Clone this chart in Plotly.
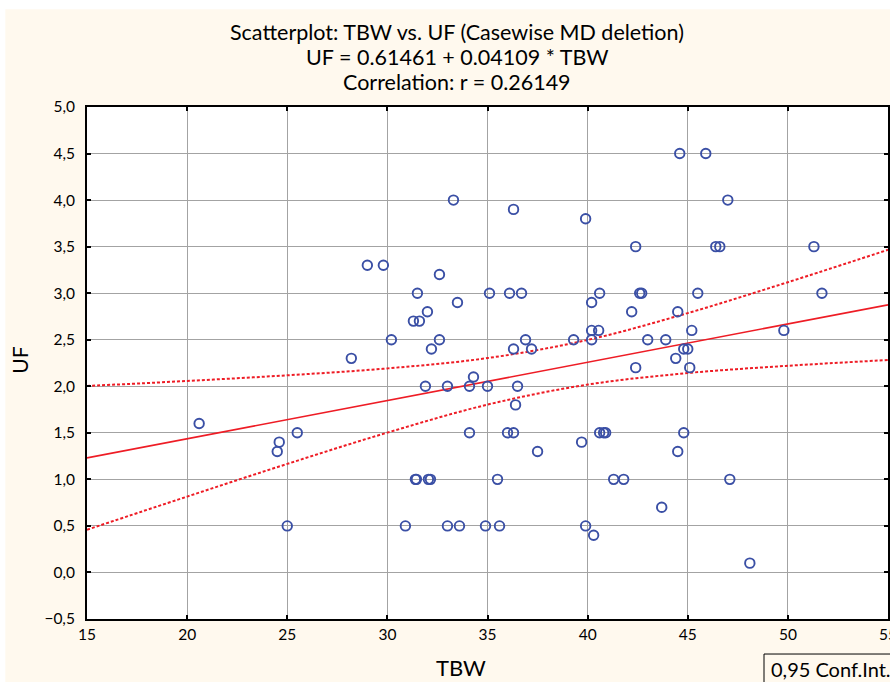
import plotly.graph_objects as go

# ---- data ----
tbw = [20.6, 24.6, 24.5, 25.5, 25.0, 28.2, 29.0, 29.8, 33.3, 36.3, 39.9, 42.4,
       32.6, 31.5, 35.1, 36.1, 36.7, 40.6, 42.6, 42.7, 33.5, 40.2, 32.0, 31.3,
       31.6, 42.2, 40.2, 40.55, 30.2, 32.6, 32.2, 39.3, 40.2, 43.0, 43.9, 36.9,
       36.3, 37.2, 42.4, 44.6, 45.9, 47.0, 46.4, 46.6, 51.3, 45.5, 51.7, 44.5,
       45.2, 49.8, 44.8, 45.0, 44.4, 45.1, 34.3, 31.9, 33.0, 34.1, 35.0, 36.5,
       36.4, 34.1, 36.0, 36.3, 37.5, 39.7, 40.6, 40.8, 40.9, 31.4, 31.45, 32.05,
       32.15, 35.5, 41.3, 41.8, 43.7, 30.9, 33.0, 33.6, 34.9, 35.6, 39.9, 40.3,
       44.8, 44.5, 47.1, 48.1]
uf = [1.6, 1.4, 1.3, 1.5, 0.5, 2.3, 3.3, 3.3, 4.0, 3.9, 3.8, 3.5,
      3.2, 3.0, 3.0, 3.0, 3.0, 3.0, 3.0, 3.0, 2.9, 2.9, 2.8, 2.7,
      2.7, 2.8, 2.6, 2.6, 2.5, 2.5, 2.4, 2.5, 2.5, 2.5, 2.5, 2.5,
      2.4, 2.4, 2.2, 4.5, 4.5, 4.0, 3.5, 3.5, 3.5, 3.0, 3.0, 2.8,
      2.6, 2.6, 2.4, 2.4, 2.3, 2.2, 2.1, 2.0, 2.0, 2.0, 2.0, 2.0,
      1.8, 1.5, 1.5, 1.5, 1.3, 1.4, 1.5, 1.5, 1.5, 1.0, 1.0, 1.0,
      1.0, 1.0, 1.0, 1.0, 0.7, 0.5, 0.5, 0.5, 0.5, 0.5, 0.5, 0.4,
      1.5, 1.3, 1.0, 0.1]

# regression line as stated in the chart title
intercept = 0.61461
slope = 0.04109
fit_x = [15, 55]

# 0.95 confidence band
band_x = [15, 20, 25, 30, 35, 40, 45, 50, 55]
band_upper = [2.003, 2.057, 2.118, 2.192, 2.303, 2.498, 2.786, 3.118, 3.466]
band_lower = [0.459, 0.815, 1.166, 1.502, 1.803, 2.018, 2.142, 2.220, 2.282]

title_lines = ["Scatterplot: TBW vs. UF (Casewise MD deletion)",
               "UF = 0.61461 + 0.04109 * TBW",
               "Correlation: r = 0.26149"]

FONT = "Lato, 'Open Sans', sans-serif"
RED = "#ee1c25"
BLUE = "#3a4fa5"
CREAM = "#fff9ee"

fig = go.Figure()

fig.add_trace(go.Scatter(
    x=band_x, y=band_upper, mode="lines", line_shape="spline",
    line=dict(color=RED, width=2, dash="3px,2px"), hoverinfo="skip"))
fig.add_trace(go.Scatter(
    x=band_x, y=band_lower, mode="lines", line_shape="spline",
    line=dict(color=RED, width=2, dash="3px,2px"), hoverinfo="skip"))
fig.add_trace(go.Scatter(
    x=fit_x, y=[intercept + slope * v for v in fit_x], mode="lines",
    line=dict(color=RED, width=1.6)))
fig.add_trace(go.Scatter(
    x=tbw, y=uf, mode="markers",
    marker=dict(symbol="circle-open", size=9.5, color=BLUE,
                line=dict(color=BLUE, width=1.9))))

axis_common = dict(
    showgrid=True, gridcolor="#a3a3a3", gridwidth=1,
    showline=True, linecolor="black", linewidth=2, mirror="allticks",
    ticks="inside", ticklen=4, tickcolor="black", tickwidth=1.5,
    zeroline=False, tickfont=dict(family=FONT, size=15.5, color="black"),
    ticklabeloverflow="allow", automargin=False,
)

fig.update_xaxes(range=[15, 55], dtick=5, tick0=15, **axis_common)
fig.update_yaxes(range=[-0.5, 5.0], dtick=0.5, tick0=-0.5, tickformat=".1f",
                 ticklabelstandoff=7, **axis_common)

annotations = []
for txt, yp in zip(title_lines, [1.146, 1.0977, 1.0488]):
    annotations.append(dict(text=txt, x=0.462, y=yp, xref="paper", yref="paper",
                            xanchor="center", yanchor="middle", showarrow=False,
                            font=dict(family=FONT, size=21.5, color="black")))
annotations.append(dict(text="UF", x=-0.0845, y=0.505, xref="paper", yref="paper",
                        xanchor="center", yanchor="middle", showarrow=False,
                        textangle=-90, font=dict(family=FONT, size=21, color="black")))
annotations.append(dict(text="TBW", x=0.467, y=-0.0957, xref="paper", yref="paper",
                        xanchor="center", yanchor="middle", showarrow=False,
                        font=dict(family=FONT, size=22, color="black")))
annotations.append(dict(text="0,95 Conf.Int.", x=0.852, y=-0.0977,
                        xref="paper", yref="paper", xanchor="left", yanchor="middle",
                        showarrow=False, align="left",
                        font=dict(family=FONT, size=20, color="black")))

shapes = [
    dict(type="rect", xref="paper", yref="paper", x0=-0.102, x1=1.05, y0=-0.2, y1=1.191,
         fillcolor=CREAM, line=dict(width=0), layer="below"),
    dict(type="rect", xref="paper", yref="paper", x0=0, x1=1, y0=0, y1=1,
         fillcolor="white", line=dict(width=0), layer="below"),
    # legend frame (runs off the right/bottom edge as in the reference)
    dict(type="rect", xref="paper", yref="paper", x0=0.8452, x1=1.05, y0=-0.2, y1=-0.0684,
         fillcolor="rgba(0,0,0,0)", line=dict(color="black", width=1), layer="above"),
]

fig.update_layout(
    width=890, height=682,
    margin=dict(l=87, r=2, t=107, b=63),
    paper_bgcolor="white", plot_bgcolor="white",
    separators=", ",
    showlegend=False,
    annotations=annotations,
    shapes=shapes,
    font=dict(family=FONT, color="black"),
)

fig.write_html("out.html",
               config={"displayModeBar": False},
               post_script="document.body.style.margin='0';"
                           "document.body.style.overflow='hidden';")
